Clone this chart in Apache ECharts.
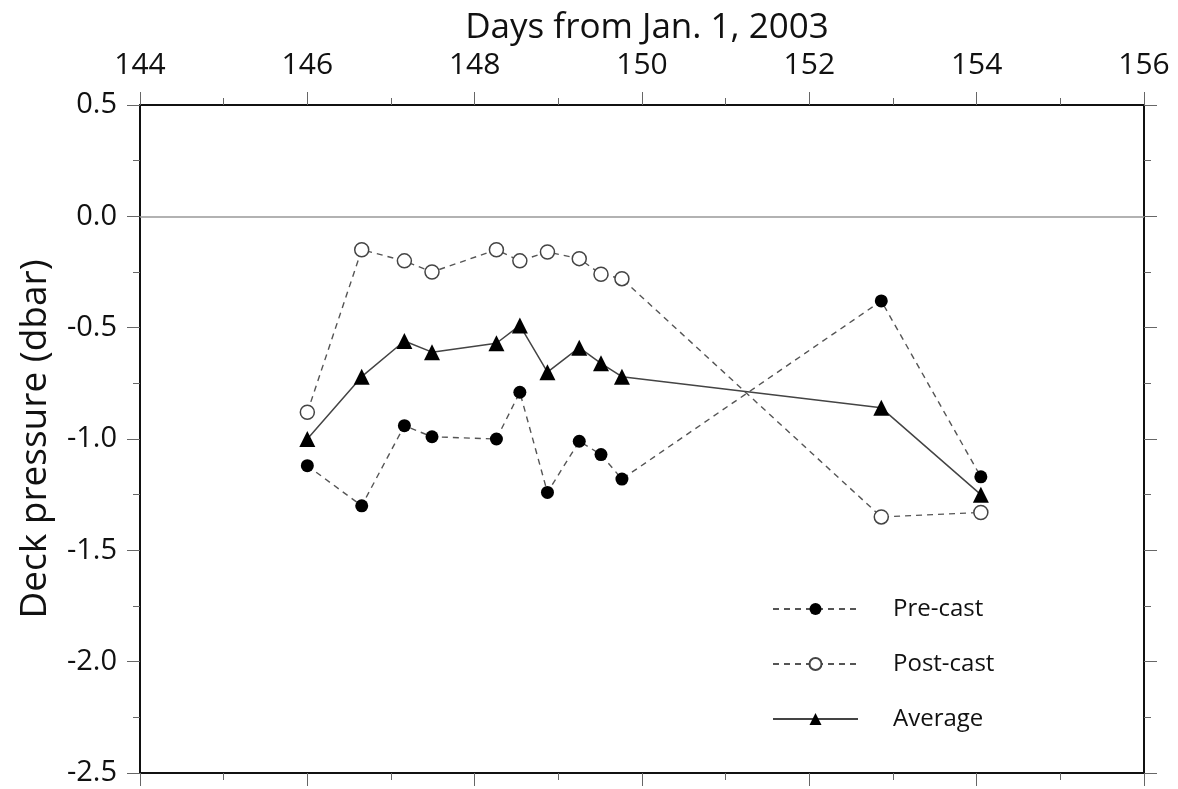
<!DOCTYPE html>
<html>
<head>
<meta charset="utf-8">
<script src="https://cdn.jsdelivr.net/npm/echarts@6/dist/echarts.min.js"></script>
<style>
  html, body { margin: 0; padding: 0; background: #fff; }
  #chart { width: 1178px; height: 789px; }
</style>
</head>
<body>
<div id="chart"></div>
<script>
// Cast times (days since Jan. 1, 2003) and deck pressure readings in dbar
const days = [146.00, 146.65, 147.16, 147.49, 148.26, 148.54, 148.87, 149.25, 149.51, 149.76, 152.86, 154.05];
const preCast = [-1.12, -1.30, -0.94, -0.99, -1.00, -0.79, -1.24, -1.01, -1.07, -1.18, -0.38, -1.17];
const postCast = [-0.88, -0.15, -0.20, -0.25, -0.15, -0.20, -0.16, -0.19, -0.26, -0.28, -1.35, -1.33];
const average = [-1.00, -0.72, -0.56, -0.61, -0.57, -0.49, -0.70, -0.59, -0.66, -0.72, -0.86, -1.25];

const seriesNames = ['Pre-cast', 'Post-cast', 'Average'];
const xTitle = 'Days from Jan. 1, 2003';
const yTitle = 'Deck pressure (dbar)';

const FONT = 'Open Sans';
const pairs = vals => days.map((d, i) => [d, vals[i]]);

const tickStyle = { show: true, length: 13, inside: false, lineStyle: { color: '#666', width: 1 } };
const minorStyle = { show: true, splitNumber: 2, length: 7, lineStyle: { color: '#666', width: 1 } };
const frameLine = { show: true, onZero: false, lineStyle: { color: '#111', width: 2 } };

const chart = echarts.init(document.getElementById('chart'), null, { renderer: 'canvas' });
chart.setOption({
  backgroundColor: '#fff',
  animation: false,
  title: {
    text: xTitle,
    left: 642,
    top: 6,
    textAlign: 'center',
    textStyle: { fontFamily: FONT, fontSize: 35, fontWeight: 'normal', color: '#111' }
  },
  grid: { left: 140, right: 34, top: 105, bottom: 16, containLabel: false },
  xAxis: [
    {
      type: 'value', position: 'top', min: 144, max: 156, interval: 2,
      axisLine: frameLine, axisTick: tickStyle, minorTick: minorStyle,
      splitLine: { show: false },
      axisLabel: { show: true, margin: 25, fontFamily: FONT, fontSize: 30, color: '#111', showMaxLabel: true, showMinLabel: true }
    },
    {
      type: 'value', position: 'bottom', min: 144, max: 156, interval: 2,
      axisLine: frameLine, axisTick: tickStyle, minorTick: minorStyle,
      splitLine: { show: false }, axisLabel: { show: false }
    }
  ],
  yAxis: [
    {
      type: 'value', position: 'left', min: -2.5, max: 0.5, interval: 0.5,
      axisLine: frameLine, axisTick: tickStyle, minorTick: minorStyle,
      splitLine: { show: false },
      axisLabel: { margin: 23, fontFamily: FONT, fontSize: 29, color: '#111', formatter: v => v.toFixed(1) },
      name: yTitle, nameLocation: 'middle', nameRotate: 90, nameGap: 86,
      nameTextStyle: { fontFamily: FONT, fontSize: 37, color: '#111' }
    },
    {
      type: 'value', position: 'right', min: -2.5, max: 0.5, interval: 0.5,
      axisLine: frameLine, axisTick: tickStyle, minorTick: minorStyle,
      splitLine: { show: false }, axisLabel: { show: false }
    }
  ],
  legend: {
    orient: 'vertical',
    left: 767,
    top: 592,
    itemWidth: 85,
    itemHeight: 15,
    itemGap: 31,
    data: seriesNames,
    textStyle: { fontFamily: FONT, fontSize: 24, color: '#111', lineHeight: 24, padding: [0, 0, 0, 30] }
  },
  series: [
    {
      name: seriesNames[0], type: 'line', data: pairs(preCast),
      symbol: 'circle', symbolSize: 13,
      itemStyle: { color: '#000', borderColor: '#000', borderWidth: 0 },
      lineStyle: { color: '#555', width: 1.4, type: [6, 5] },
      markLine: {
        silent: true, symbol: 'none', label: { show: false },
        lineStyle: { color: '#999', width: 1.5, type: 'solid' },
        data: [{ yAxis: 0 }]
      },
      z: 3
    },
    {
      name: seriesNames[1], type: 'line', data: pairs(postCast),
      symbol: 'circle', symbolSize: 14,
      itemStyle: { color: '#fff', borderColor: '#444', borderWidth: 1.5 },
      lineStyle: { color: '#555', width: 1.4, type: [6, 5] },
      z: 3
    },
    {
      name: seriesNames[2], type: 'line', data: pairs(average),
      symbol: 'triangle', symbolSize: 16,
      itemStyle: { color: '#000' },
      lineStyle: { color: '#444', width: 1.5, type: 'solid' },
      z: 4
    }
  ]
});
</script>
</body>
</html>
